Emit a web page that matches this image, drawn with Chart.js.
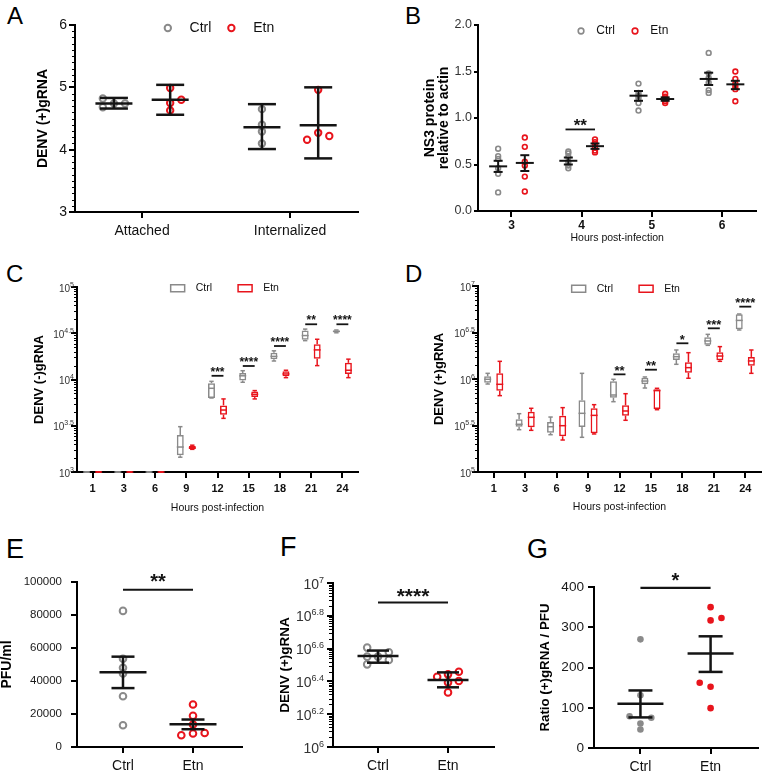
<!DOCTYPE html>
<html><head><meta charset="utf-8">
<script src="https://cdn.jsdelivr.net/npm/chart.js@4.4.1/dist/chart.umd.min.js"></script>
<style>
html,body{margin:0;padding:0;background:#fff;}
#wrap{position:relative;width:762px;height:771px;overflow:hidden;}
#wrap canvas{position:absolute;}
.lt{position:absolute;line-height:1;color:#000;font-family:'Liberation Sans',Arial,sans-serif;}
</style></head><body><div id="wrap">
<div class="lt" style="left:7px;top:4px;font-size:24px">A</div>
<div class="lt" style="left:405px;top:4px;font-size:24px">B</div>
<div class="lt" style="left:6px;top:262px;font-size:24px">C</div>
<div class="lt" style="left:405px;top:262px;font-size:24px">D</div>
<div class="lt" style="left:6px;top:536px;font-size:27px">E</div>
<div class="lt" style="left:280px;top:534px;font-size:27px">F</div>
<div class="lt" style="left:527px;top:536px;font-size:27px">G</div>
</div>
<script>
// ================= DATA =================
// Panel A
const aCategories = ['Attached', 'Internalized'];
const aCtrlPoints = [[4.82, 4.68, 4.74, 4.74], [4.65, 4.40, 4.29, 4.10]];
const aEtnPoints  = [[4.99, 4.75, 4.63, 4.80], [4.96, 4.27, 4.16, 4.22]];
const aCtrlMean = [4.74, 4.36];
const aCtrlLow  = [4.66, 4.01];
const aCtrlHigh = [4.83, 4.73];
const aEtnMean  = [4.80, 4.39];
const aEtnLow   = [4.56, 3.86];
const aEtnHigh  = [5.04, 5.00];
const aYTicks = [3, 4, 5, 6];

// Panel B
const bHours = ['3', '4', '5', '6'];
const bCtrlPoints = [[0.67, 0.59, 0.56, 0.46, 0.40, 0.20], [0.64, 0.62, 0.58, 0.53, 0.49, 0.46], [1.37, 1.27, 1.24, 1.21, 1.16, 1.08], [1.70, 1.48, 1.43, 1.38, 1.30, 1.27]];
const bEtnPoints  = [[0.79, 0.69, 0.53, 0.49, 0.37, 0.21], [0.77, 0.74, 0.72, 0.69, 0.65, 0.63], [1.26, 1.23, 1.21, 1.20, 1.18, 1.16], [1.50, 1.42, 1.37, 1.34, 1.31, 1.18]];
const bCtrlMean = [0.48, 0.54, 1.24, 1.42];
const bCtrlLow  = [0.42, 0.50, 1.185, 1.355];
const bCtrlHigh = [0.54, 0.575, 1.29, 1.487];
const bEtnMean  = [0.517, 0.697, 1.204, 1.362];
const bEtnLow   = [0.43, 0.668, 1.185, 1.31];
const bEtnHigh  = [0.60, 0.726, 1.222, 1.40];
const bYTicks = [0, 0.5, 1.0, 1.5, 2.0];
const bSigHour = 1, bSigLabel = '**', bSigY = 0.877;

// Panel C  (log10 of [min, q1, median, q3, max])
const cHours = ['1', '3', '6', '9', '12', '15', '18', '21', '24'];
const cCtrlLog10 = [[3, 3, 3, 3, 3], [3, 3, 3, 3, 3], [3, 3, 3, 3, 3], [3.16, 3.18, 3.27, 3.40, 3.49], [3.80, 3.80, 3.905, 3.96, 3.98], [3.97, 3.99, 4.04, 4.07, 4.095], [4.20, 4.22, 4.25, 4.29, 4.31], [4.42, 4.43, 4.475, 4.53, 4.545], [4.505, 4.51, 4.52, 4.53, 4.535]];
const cEtnLog10  = [[3, 3, 3, 3, 3], [3, 3, 3, 3, 3], [3, 3, 3, 3, 3], [3.245, 3.25, 3.26, 3.28, 3.29], [3.58, 3.62, 3.67, 3.72, 3.79], [3.79, 3.81, 3.84, 3.87, 3.88], [4.02, 4.035, 4.06, 4.09, 4.10], [4.15, 4.225, 4.32, 4.38, 4.435], [4.02, 4.06, 4.10, 4.18, 4.22]];
const cTickExps = [3, 3.5, 4, 4.5, 5];
const cSigLabels = ['', '', '', '', '***', '****', '****', '**', '****'];
const cSigLog10  = [null, null, null, null, 4.04, 4.146, 4.362, 4.597, 4.597];

// Panel D  (log10 of [min, q1, median, q3, max])
const dHours = ['1', '3', '6', '9', '12', '15', '18', '21', '24'];
const dCtrlLog10 = [[5.946, 5.961, 5.997, 6.029, 6.061], [5.455, 5.487, 5.513, 5.566, 5.627], [5.401, 5.423, 5.487, 5.538, 5.591], [5.373, 5.484, 5.631, 5.771, 6.061], [5.756, 5.799, 5.828, 5.975, 5.997], [5.903, 5.943, 5.978, 6.014, 6.022], [6.158, 6.204, 6.240, 6.276, 6.312], [6.362, 6.369, 6.409, 6.448, 6.480], [6.527, 6.534, 6.630, 6.695, 6.699]];
const dEtnLog10  = [[5.821, 5.875, 5.943, 6.061, 6.190], [5.448, 5.480, 5.588, 5.649, 5.685], [5.344, 5.384, 5.498, 5.606, 5.692], [5.409, 5.416, 5.609, 5.685, 5.724], [5.556, 5.606, 5.656, 5.717, 5.842], [5.670, 5.677, 5.875, 5.889, 5.900], [6.008, 6.068, 6.122, 6.179, 6.283], [6.190, 6.201, 6.247, 6.287, 6.348], [6.061, 6.143, 6.194, 6.237, 6.312]];
const dTickExps = [5, 5.5, 6, 6.5, 7];
const dSigLabels = ['', '', '', '', '**', '**', '*', '***', '****'];
const dSigLog10  = [null, null, null, null, 6.05, 6.10, 6.384, 6.545, 6.778];

// Panel E
const eGroups = ['Ctrl', 'Etn'];
const eCtrlPoints = [82500, 53500, 48000, 44500, 30800, 13200];
const eEtnPoints  = [25800, 18900, 13600, 8500, 8150, 7100];
const eMean = [45250, 13800];
const eLow  = [35700, 10770];
const eHigh = [54750, 16650];
const eYTicks = [0, 20000, 40000, 60000, 80000, 100000];
const eSigLabel = '**', eSigY = 95300;

// Panel F (log10 values)
const fGroups = ['Ctrl', 'Etn'];
const fCtrlLog10 = [6.606, 6.551, 6.504, 6.551, 6.578, 6.531];
const fEtnLog10  = [6.428, 6.443, 6.459, 6.394, 6.402, 6.333];
const fMeanLog10 = [6.555, 6.408];
const fLowLog10  = [6.514, 6.364];
const fHighLog10 = [6.588, 6.455];
const fTickExps = [6, 6.2, 6.4, 6.6, 6.8, 7];
const fSigLabel = '****', fSigLog10 = 6.881;

// Panel G
const gGroups = ['Ctrl', 'Etn'];
const gCtrlPoints = [270, 131, 79, 75, 61, 46];
const gEtnPoints  = [350, 317, 323, 162, 152, 99];
const gMean = [110, 234.5];
const gLow  = [76, 189];
const gHigh = [143, 277.5];
const gYTicks = [0, 100, 200, 300, 400];
const gSigLabel = '*', gSigY = 398;

// ================= LAYOUT / STYLE (not data) =================
const aCtrlJitter = [[-1, -1, 0, 1], [0, 0, 0, 0]];
const aEtnJitter  = [[0, 0, 0, 1], [0, 0, -1, 1]];
const eEtnJitter  = [0, 0, 0, 1, 0, -1];
const fCtrlJitter = [-1, -1, -1, 0, 1, 1];
const fEtnJitter  = [-1, 0, 1, 0, 1, 0];
const gCtrlJitter = [0, 0, -1, 1, 0, 0];
const gEtnJitter  = [0, 0, 1, -1, 0, 0];

const GRAY = '#8a8a8a', RED = '#e8141c', INK = '#141414';
const FONT = "'Liberation Sans', Arial, Helvetica, sans-serif";
Chart.defaults.font.family = FONT;
Chart.defaults.color = '#1a1a1a';
Chart.defaults.animation = false;
Chart.defaults.events = [];
Chart.defaults.plugins.tooltip.enabled = false;

const pow10 = v => Math.pow(10, v);

function seg(ctx, x1, y1, x2, y2) { ctx.beginPath(); ctx.moveTo(x1, y1); ctx.lineTo(x2, y2); ctx.stroke(); }

const annot = {
  id: 'annot',
  afterDatasetsDraw(chart, args, o) {
    const ctx = chart.ctx, xs = chart.scales.x, ys = chart.scales.y;
    ctx.save();
    if (o.boxes) {
      o.boxes.forEach((stats, di) => {
        const meta = chart.getDatasetMeta(di);
        ctx.strokeStyle = chart.data.datasets[di].borderColor;
        ctx.lineWidth = o.boxLw;
        meta.data.forEach((bar, i) => {
          const s = stats[i];
          const p = s.map(v => ys.getPixelForValue(pow10(v)));
          const x = bar.x, hw = bar.width / 2, cw = o.capHalf;
          seg(ctx, x - hw, p[2], x + hw, p[2]);
          if (p[4] < p[3] - 0.5) { seg(ctx, x, p[3], x, p[4]); }
          seg(ctx, x - cw, p[4], x + cw, p[4]);
          if (p[0] > p[1] + 0.5) { seg(ctx, x, p[1], x, p[0]); }
          seg(ctx, x - cw, p[0], x + cw, p[0]);
        });
      });
    }
    if (o.errs) {
      ctx.strokeStyle = INK;
      for (const g of o.errs) {
        ctx.lineWidth = g.lw;
        const x = xs.getPixelForValue(g.x);
        const ym = ys.getPixelForValue(g.m), yl = ys.getPixelForValue(g.lo), yh = ys.getPixelForValue(g.hi);
        seg(ctx, x - g.w, ym, x + g.w, ym);
        seg(ctx, x, yl, x, yh);
        seg(ctx, x - g.c, yl, x + g.c, yl);
        seg(ctx, x - g.c, yh, x + g.c, yh);
      }
    }
    if (o.sig) {
      for (const s of o.sig) {
        const x1 = xs.getPixelForValue(s.x1), x2 = xs.getPixelForValue(s.x2), y = ys.getPixelForValue(s.y);
        ctx.strokeStyle = INK; ctx.lineWidth = s.lw;
        seg(ctx, x1, y, x2, y);
        ctx.fillStyle = INK;
        ctx.font = 'bold ' + s.size + 'px ' + FONT;
        ctx.textAlign = 'center'; ctx.textBaseline = 'alphabetic';
        ctx.fillText(s.label, (x1 + x2) / 2, y - s.gap + 0.57 * s.size);
      }
    }
    ctx.restore();
  },
  afterDraw(chart, args, o) {
    const ctx = chart.ctx, ys = chart.scales.y, ca = chart.chartArea;
    ctx.save();
    if (o.minor) {
      ctx.strokeStyle = '#000'; ctx.lineWidth = 1;
      for (const v of o.minor.values) {
        const y = Math.round(ys.getPixelForValue(v)) + 0.5;
        seg(ctx, ca.left - o.minor.len, y, ca.left, y);
      }
    }
    if (o.sup) {
      const s = o.sup;
      ctx.fillStyle = s.color; ctx.textAlign = 'left'; ctx.textBaseline = 'alphabetic';
      for (const e of s.exps) {
        const y = ys.getPixelForValue(pow10(e));
        const et = String(e);
        ctx.font = s.size + 'px ' + FONT; const wb = ctx.measureText('10').width;
        ctx.font = s.supSize + 'px ' + FONT; const we = ctx.measureText(et).width;
        const x0 = ca.left - s.gap - we - wb;
        ctx.font = s.size + 'px ' + FONT; ctx.fillText('10', x0, y + s.dy);
        ctx.font = s.supSize + 'px ' + FONT; ctx.fillText(et, x0 + wb, y + s.dy - s.rise);
      }
    }
    ctx.restore();
  }
};

// Lays the legend out as one horizontal row placed at the top of the plot area.
const legendRow = {
  id: 'legendRow',
  beforeUpdate(chart) {
    if (chart.legend && !chart.legend.__row) { chart.legend.isHorizontal = () => true; chart.legend.__row = true; }
  },
  afterLayout(chart, args, o) {
    const lg = chart.legend, ca = chart.chartArea; if (!lg) return;
    lg.left = ca.left + (o.dx || 0); lg.right = ca.right + (o.dx || 0);
    lg.width = lg.right - lg.left;
    lg.top = ca.top + (o.dy || 0); lg.bottom = lg.top + lg.height;
  }
};

function makeCanvas(left, top, w, h) {
  const c = document.createElement('canvas');
  c.width = w; c.height = h;
  c.style.left = left + 'px'; c.style.top = top + 'px';
  c.style.width = w + 'px'; c.style.height = h + 'px';
  document.getElementById('wrap').appendChild(c);
  return c;
}
const grid = len => ({ display: true, drawOnChartArea: false, drawTicks: true, tickLength: len, color: '#000', lineWidth: 2 });
const border = { display: true, color: '#000', width: 2 };
const yTitle = (text, size, pad) => ({ display: true, text, color: '#000', font: { size, weight: 'bold', lineHeight: 1.0 }, padding: { top: pad, bottom: 0 } });
const xTitle = (text, size, pad) => ({ display: true, text, color: '#111', font: { size, lineHeight: 1.0 }, padding: { top: 0, bottom: pad } });
const legendOpts = (size, pad, bw, bh, point) => ({
  display: true, position: 'chartArea', align: 'center',
  labels: { color: '#111', font: { size }, padding: pad, boxWidth: bw, boxHeight: bh, usePointStyle: point, pointStyle: 'circle' }
});
function base(extra) {
  return Object.assign({ responsive: false, maintainAspectRatio: false, devicePixelRatio: 1, animation: false, events: [] }, extra);
}
function logMinor(exps) {
  const out = [];
  for (let i = 0; i < exps.length - 1; i++) {
    const a = exps[i], d = exps[i + 1] - exps[i];
    for (let k = 2; k <= 9; k++) out.push(pow10(a + d * Math.log10(k)));
  }
  return out;
}

// ================= PANEL A =================
(function () {
  const off = 0.19, jit = 0.075;
  const c = makeCanvas(0, 0, 381, 250);
  const errs = [];
  aCategories.forEach((_, ci) => {
    errs.push({ x: ci + 1 - off, m: aCtrlMean[ci], lo: aCtrlLow[ci], hi: aCtrlHigh[ci], w: 18.5, c: 14, lw: 2.5 });
    errs.push({ x: ci + 1 + off, m: aEtnMean[ci], lo: aEtnLow[ci], hi: aEtnHigh[ci], w: 18.5, c: 14, lw: 2.5 });
  });
  const minor = [];
  for (let v = 3.1; v < 6; v += 0.1) { if (Math.abs(v - Math.round(v)) > 0.01) minor.push(v); }
  new Chart(c, {
    type: 'scatter',
    data: { datasets: [
      { label: '  Ctrl', data: aCtrlPoints.flatMap((vals, ci) => vals.map((v, j) => ({ x: ci + 1 - off + aCtrlJitter[ci][j] * jit, y: v }))), borderColor: GRAY, backgroundColor: 'rgba(0,0,0,0)', borderWidth: 2, pointRadius: 3.2 },
      { label: '  Etn', data: aEtnPoints.flatMap((vals, ci) => vals.map((v, j) => ({ x: ci + 1 + off + aEtnJitter[ci][j] * jit, y: v }))), borderColor: RED, backgroundColor: 'rgba(0,0,0,0)', borderWidth: 2, pointRadius: 3.2 }
    ] },
    options: base({
      layout: { padding: { left: 0, top: 25, right: 23, bottom: 0 } },
      scales: {
        x: { type: 'linear', min: 0.547, max: 2.459, afterBuildTicks: s => { s.ticks = aCategories.map((_, i) => ({ value: i + 1 })); },
             ticks: { callback: (v, i) => aCategories[i], font: { size: 14 }, color: '#111', padding: 5 }, afterFit: s => { s.height = 38; }, grid: grid(6), border },
        y: { min: 3, max: 6, afterBuildTicks: s => { s.ticks = aYTicks.map(v => ({ value: v })); },
             ticks: { font: { size: 14 }, color: '#111', padding: 2 }, title: yTitle('DENV (+)gRNA', 14, 36), afterFit: s => { s.width = 75; }, grid: grid(6), border }
      },
      plugins: { legend: legendOpts(14, 13, 14, 4.5, true), legendRow: { dy: -17, dx: 1 }, annot: { errs, minor: { values: minor, len: 3 } } }
    }),
    plugins: [annot, legendRow]
  });
})();

// ================= PANEL B =================
(function () {
  const off = 0.19;
  const c = makeCanvas(381, 0, 381, 250);
  const errs = [];
  bHours.forEach((_, i) => {
    errs.push({ x: i - off, m: bCtrlMean[i], lo: bCtrlLow[i], hi: bCtrlHigh[i], w: 9, c: 4.5, lw: 2 });
    errs.push({ x: i + off, m: bEtnMean[i], lo: bEtnLow[i], hi: bEtnHigh[i], w: 9, c: 4.5, lw: 2 });
  });
  new Chart(c, {
    type: 'scatter',
    data: { datasets: [
      { label: ' Ctrl', data: bCtrlPoints.flatMap((vals, i) => vals.map(v => ({ x: i - off, y: v }))), borderColor: GRAY, backgroundColor: 'rgba(0,0,0,0)', borderWidth: 1.6, pointRadius: 2.4 },
      { label: ' Etn', data: bEtnPoints.flatMap((vals, i) => vals.map(v => ({ x: i + off, y: v }))), borderColor: RED, backgroundColor: 'rgba(0,0,0,0)', borderWidth: 1.6, pointRadius: 2.4 }
    ] },
    options: base({
      layout: { padding: { left: 0, top: 25, right: 1, bottom: 0 } },
      scales: {
        x: { type: 'linear', min: -0.477, max: 3.49, afterBuildTicks: s => { s.ticks = bHours.map((_, i) => ({ value: i })); },
             ticks: { callback: (v, i) => bHours[i], font: { size: 12, weight: 'bold' }, color: '#111', padding: 1 },
             title: xTitle('Hours post-infection', 10.5, 6.75), afterFit: s => { s.height = 39; }, grid: grid(6), border },
        y: { min: 0, max: 2, afterBuildTicks: s => { s.ticks = bYTicks.map(v => ({ value: v })); },
             ticks: { font: { size: 12.5 }, color: '#333', padding: 2, callback: v => v.toFixed(1) },
             title: yTitle(['NS3 protein', 'relative to actin'], 14, 42), afterFit: s => { s.width = 97; }, grid: grid(4), border }
      },
      plugins: { legend: legendOpts(12, 14, 12, 4, true), legendRow: { dy: -14, dx: 4.5 },
        annot: { errs, sig: [{ x1: bSigHour - 0.23, x2: bSigHour + 0.19, y: bSigY, label: bSigLabel, size: 17, gap: 8.6, lw: 1.8 }] } }
    }),
    plugins: [annot, legendRow]
  });
})();

// ================= PANELS C & D (box plots) =================
function boxPanel(left, cfg) {
  const c = makeCanvas(left, 260, 381, 260);
  const sig = [];
  cfg.sigLabels.forEach((lab, i) => { if (lab) sig.push({ x1: i - 0.19, x2: i + 0.19, y: pow10(cfg.sigLog10[i]), label: lab, size: cfg.starSize, gap: 6.8, lw: 1.8 }); });
  new Chart(c, {
    type: 'bar',
    data: { labels: cfg.hours, datasets: [
      { label: '  Ctrl', data: cfg.ctrl.map(s => [pow10(s[1]), pow10(s[3])]), borderColor: GRAY, backgroundColor: 'rgba(0,0,0,0)', borderWidth: 1.5, borderSkipped: false, categoryPercentage: 0.77, barPercentage: 0.58 },
      { label: '  Etn', data: cfg.etn.map(s => [pow10(s[1]), pow10(s[3])]), borderColor: RED, backgroundColor: 'rgba(0,0,0,0)', borderWidth: 1.5, borderSkipped: false, categoryPercentage: 0.77, barPercentage: 0.58 }
    ] },
    options: base({
      layout: { padding: { left: 0, top: cfg.top, right: cfg.right, bottom: 0 } },
      scales: {
        x: { type: 'category', offset: true, ticks: { font: { size: 11, weight: 'bold' }, color: '#111', padding: 4 },
             title: xTitle('Hours post-infection', 10.5, cfg.xtPad), afterFit: s => { s.height = 48; }, grid: Object.assign(grid(6), { offset: false }), border },
        y: { type: 'logarithmic', min: pow10(cfg.exps[0]), max: pow10(cfg.exps[cfg.exps.length - 1]),
             afterBuildTicks: s => { s.ticks = cfg.exps.map(e => ({ value: pow10(e) })); },
             ticks: { callback: () => '' }, title: yTitle(cfg.ytitle, 13, cfg.ytPad), afterFit: s => { s.width = cfg.yw; }, grid: grid(6), border }
      },
      plugins: { legend: legendOpts(10.5, 26, 14, 7, false), legendRow: { dy: cfg.ldy, dx: cfg.ldx },
        annot: { boxes: [cfg.ctrl, cfg.etn], boxLw: 1.5, capHalf: 2.2, sig,
          minor: { values: logMinor(cfg.exps), len: 3 },
          sup: { exps: cfg.exps, size: 10, supSize: 7, color: '#333', gap: 3, dy: 4.5, rise: 5 } } }
    }),
    plugins: [annot, legendRow]
  });
}
boxPanel(0, { hours: cHours, ctrl: cCtrlLog10, etn: cEtnLog10, exps: cTickExps, sigLabels: cSigLabels, sigLog10: cSigLog10,
  top: 27, right: 23, yw: 77, ytitle: 'DENV (-)gRNA', ytPad: 32.8, xtPad: 6.45, starSize: 12, ldy: -30, ldx: 7.3 });
boxPanel(381, { hours: dHours, ctrl: dCtrlLog10, etn: dEtnLog10, exps: dTickExps, sigLabels: dSigLabels, sigLog10: dSigLog10,
  top: 26, right: 1, yw: 97, ytitle: 'DENV (+)gRNA', ytPad: 51.8, xtPad: 7.45, starSize: 13, ldy: -28.5, ldx: 6.3 });

// ================= PANELS E, F, G =================
function dotPanel(left, cfg) {
  const c = makeCanvas(left, 520, 254, 251);
  const jit = cfg.jit;
  const errs = [0, 1].map(i => ({ x: i + 1, m: cfg.mean[i], lo: cfg.low[i], hi: cfg.high[i], w: cfg.mw, c: cfg.cw, lw: 2.5 }));
  const yScale = cfg.log ? {
      type: 'logarithmic', min: pow10(cfg.exps[0]), max: pow10(cfg.exps[cfg.exps.length - 1]),
      afterBuildTicks: s => { s.ticks = cfg.exps.map(e => ({ value: pow10(e) })); }, ticks: { callback: () => '' }
    } : {
      min: cfg.yTicks[0], max: cfg.yTicks[cfg.yTicks.length - 1],
      afterBuildTicks: s => { s.ticks = cfg.yTicks.map(v => ({ value: v })); },
      ticks: { font: { size: cfg.yFont }, color: '#1a1a1a', padding: cfg.yPad, callback: v => String(v) }
    };
  Object.assign(yScale, { title: yTitle(cfg.ytitle, cfg.ytSize, cfg.ytPad), afterFit: s => { s.width = cfg.yw; }, grid: grid(6), border });
  new Chart(c, {
    type: 'scatter',
    data: { datasets: [
      { label: 'Ctrl', data: cfg.ctrl.map((v, j) => ({ x: 1 + cfg.ctrlJ[j] * jit, y: v })), borderColor: GRAY, backgroundColor: cfg.filled ? GRAY : 'rgba(0,0,0,0)', borderWidth: cfg.filled ? 0 : 2, pointRadius: 3.3 },
      { label: 'Etn', data: cfg.etn.map((v, j) => ({ x: 2 + cfg.etnJ[j] * jit, y: v })), borderColor: RED, backgroundColor: cfg.filled ? RED : 'rgba(0,0,0,0)', borderWidth: cfg.filled ? 0 : 2, pointRadius: 3.3 }
    ] },
    options: base({
      layout: { padding: { left: 0, top: cfg.top, right: cfg.right, bottom: 0 } },
      scales: {
        x: { type: 'linear', min: cfg.xmin, max: cfg.xmax, afterBuildTicks: s => { s.ticks = [{ value: 1 }, { value: 2 }]; },
             ticks: { callback: (v, i) => cfg.groups[i], font: { size: 14 }, color: '#111', padding: 5 }, afterFit: s => { s.height = cfg.xh; }, grid: grid(6), border },
        y: yScale
      },
      plugins: { legend: { display: false },
        annot: Object.assign({ errs, sig: [{ x1: 1, x2: 2, y: cfg.sigY, label: cfg.sigLabel, size: cfg.starSize, gap: cfg.starGap, lw: 2.2 }] }, cfg.annotExtra || {}) }
    }),
    plugins: [annot]
  });
}
dotPanel(0, { groups: eGroups, ctrl: eCtrlPoints, etn: eEtnPoints, mean: eMean, low: eLow, high: eHigh, yTicks: eYTicks,
  ctrlJ: [0, 0, 0, 0, 0, 0], etnJ: eEtnJitter, jit: 0.167, filled: false,
  xmin: 0.343, xmax: 2.7, top: 62, right: 12, yw: 77, xh: 24, yFont: 11.5, yPad: 9,
  ytitle: 'PFU/ml', ytSize: 14, ytPad: 0, mw: 23.5, cw: 11.5, sigY: eSigY, sigLabel: eSigLabel, starSize: 20, starGap: 13 });
dotPanel(254, { groups: fGroups, ctrl: fCtrlLog10.map(pow10), etn: fEtnLog10.map(pow10), mean: fMeanLog10.map(pow10), low: fLowLog10.map(pow10), high: fHighLog10.map(pow10),
  log: true, exps: fTickExps, ctrlJ: fCtrlJitter, etnJ: fEtnJitter, jit: 0.155, filled: false,
  xmin: 0.357, xmax: 2.657, top: 63, right: 14, yw: 79, xh: 24,
  ytitle: 'DENV (+)gRNA', ytSize: 13.5, ytPad: 25, mw: 20.5, cw: 11, sigY: pow10(fSigLog10), sigLabel: fSigLabel, starSize: 21, starGap: 11,
  annotExtra: { minor: { values: logMinor(fTickExps), len: 4 }, sup: { exps: fTickExps, size: 14, supSize: 9, color: '#333', gap: 9, dy: 5.5, rise: 6 } } });
dotPanel(508, { groups: gGroups, ctrl: gCtrlPoints, etn: gEtnPoints, mean: gMean, low: gLow, high: gHigh, yTicks: gYTicks,
  ctrlJ: gCtrlJitter, etnJ: gEtnJitter, jit: 0.155, filled: true,
  xmin: 0.338, xmax: 2.676, top: 67, right: 2, yw: 86, xh: 23, yFont: 13.6, yPad: 4,
  ytitle: 'Ratio (+)gRNA / PFU', ytSize: 13.3, ytPad: 31, mw: 23, cw: 12, sigY: gSigY, sigLabel: gSigLabel, starSize: 20, starGap: 12.3 });
</script></body></html>
